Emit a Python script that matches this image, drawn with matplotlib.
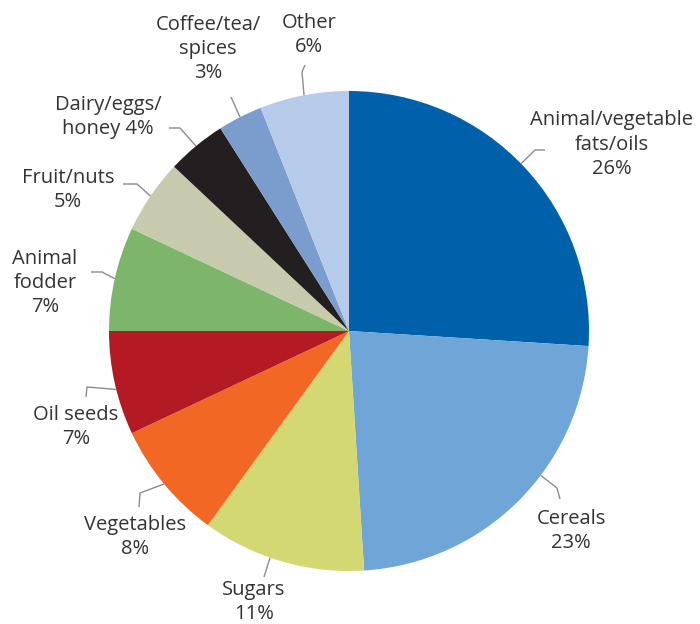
import matplotlib.pyplot as plt
import numpy as np

plt.rcParams['font.family'] = ['Open Sans', 'DejaVu Sans']

# data
categories = ["Animal/vegetable\nfats/oils", "Cereals", "Sugars", "Vegetables", "Oil seeds",
              "Animal\nfodder", "Fruit/nuts", "Dairy/eggs/\nhoney", "Coffee/tea/\nspices", "Other"]
shares = [26, 23, 11, 8, 7, 7, 5, 4, 3, 6]
colors = ['#0060a9', '#6fa6d7', '#d4d872', '#f26724', '#b31a23',
          '#7db66a', '#c8caad', '#231f20', '#7b9dce', '#b5cbe9']

# layout (pixel coords, y down from top of the 700x624 image)
H = 624
center = (349, 331)
radius = 240
# label block centre, separator between name and share, leader points after the wedge edge, anchor shift (deg)
label_pos = [(612, 145), (571, 531), (254, 602), (135, 537), (76, 427),
             (45, 283), (68, 190), (108, 117), (208, 49), (309, 35)]
label_sep = ["\n", "\n", "\n", "\n", "\n", "\n", "\n", " ", "\n", "\n"]
leaders = [
    [(535, 150), (545, 150)],
    [(557, 488), (560, 499)],
    [(264, 577)],
    [(140, 493), (139, 507)],
    [(87, 387), (86, 397)],
    [(102, 272), (91, 272)],
    [(137, 184), (123, 184)],
    [(180, 128), (169, 128)],
    [(231, 97)],
    [(302, 72), (305, 65)],
]
anchor_shift = [1, 8, -3, 0, 1.5, 0, 0, 0, 0, 0]

fig = plt.figure(figsize=(7, 6.24), dpi=100)
ax = fig.add_axes([0, 0, 1, 1])

wedges, _ = ax.pie(shares, colors=colors, startangle=90, counterclock=False,
                   center=(center[0], H - center[1]), radius=radius,
                   wedgeprops=dict(linewidth=0))
ax.set_xlim(0, 700)
ax.set_ylim(0, H)
ax.set_aspect('equal')
ax.axis('off')

for i, w in enumerate(wedges):
    mid = np.deg2rad((w.theta1 + w.theta2) / 2 + anchor_shift[i])
    x0 = center[0] + radius * np.cos(mid)
    y0 = (H - center[1]) + radius * np.sin(mid)
    xs = [x0] + [p[0] for p in leaders[i]]
    ys = [y0] + [H - p[1] for p in leaders[i]]
    ax.plot(xs, ys, color='#8c8c8c', lw=1.0, solid_capstyle='butt')

    text = f"{categories[i]}{label_sep[i]}{shares[i]}%"
    ax.text(label_pos[i][0], H - label_pos[i][1], text, ha='center', va='center',
            fontsize=14.5, color='#333333', linespacing=1.3)

plt.savefig("out.png", dpi=100)
plt.close(fig)
